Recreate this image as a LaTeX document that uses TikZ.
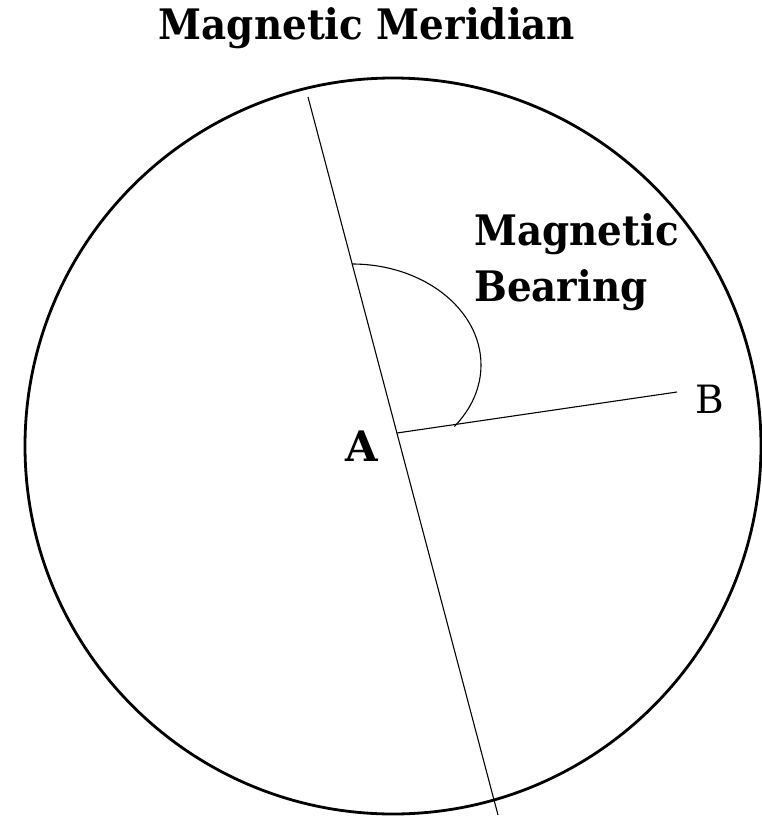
\documentclass[tikz,border=0pt]{standalone}
\usepackage{fontspec}
\setmainfont{DejaVu Serif}
\newcommand{\narrowtext}[1]{\scalebox{0.925}[1]{#1}}
\begin{document}
\begin{tikzpicture}[x=1pt,y=-1pt,
  thin line/.style={line width=1.1pt},
  boldlabel/.style={inner sep=0pt,font=\fontsize{42}{48}\selectfont\bfseries},
  plainlabel/.style={inner sep=0pt,font=\fontsize{39}{46}\selectfont}]
\useasboundingbox (0,0) rectangle (762,817);
\coordinate (O) at (393,446);
\draw[line width=2.8pt] (O) circle[radius=368];
\coordinate (N) at (308,97);
\coordinate (S) at (498,815);
\coordinate (A) at (397,433);
\coordinate (Bend) at (677,392);
\coordinate (arcstart) at (352,264);
\draw[thin line] (N) -- (S);
\draw[thin line] (A) -- (Bend);
\draw[thin line] (arcstart) arc[start angle=-90,end angle=37.5,x radius=129,y radius=101];
\node[boldlabel,anchor=base] (title) at (367,39) {\narrowtext{Magnetic Meridian}};
\node[boldlabel,anchor=base west] (mag) at (474,245) {\narrowtext{Magnetic}};
\node[boldlabel,anchor=base west] (bear) at (474,301) {\narrowtext{Bearing}};
\node[boldlabel,anchor=base] (labA) at (362,461) {A};
\node[plainlabel,anchor=base west] (labB) at (695,413) {B};
\end{tikzpicture}
\end{document}
